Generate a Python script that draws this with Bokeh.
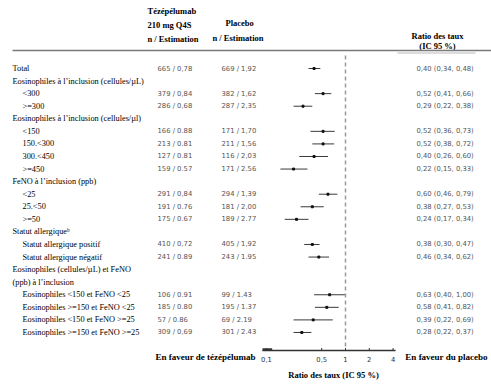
from bokeh.plotting import figure
from bokeh.models import Range1d, LogScale
from bokeh.core.properties import value
from bokeh.embed import file_html
from bokeh.resources import INLINE

# ---------------- data ----------------
labels = [
    "Total",
    "Eosinophiles à l’inclusion (cellules/µL)",
    "<300",
    ">=300",
    "Eosinophiles à l’inclusion (cellules/µl)",
    "<150",
    "150.<300",
    "300.<450",
    " >=450",
    "FeNO à l’inclusion (ppb)",
    "<25",
    "25.<50",
    ">=50",
    "Statut allergiqueᵇ",
    "Statut allergique positif",
    "Statut allergique négatif",
    "Eosinophiles (cellules/µL) et FeNO",
    "(ppb) à l’inclusion",
    "Eosinophiles <150 et FeNO <25",
    "Eosinophiles  >=150 et FeNO <25",
    "Eosinophiles <150 et FeNO >=25",
    "Eosinophiles >=150 et FeNO >=25",
]
level = [0, 0, 1, 1, 0, 1, 1, 1, 1, 0, 1, 1, 1, 0, 1, 1, 0, 0, 1, 1, 1, 1]

tez_text = ["665 / 0,78", "", "379 / 0,84", "286 / 0,68", "", "166 / 0.88",
            "213 / 0.81", "127 / 0.81", "159 / 0.57", "", "291 / 0,84",
            "191 / 0.76", "175 / 0.67", "", "410 / 0,72", "241 / 0.89", "", "",
            "106 / 0.91", "185 / 0.80", "57 / 0.86", "309 / 0,69"]
pla_text = ["669 / 1,92", "", "382 / 1,62", "287 / 2,35", "", "171 / 1,70",
            "211 / 1,56", "116 / 2,03", "171 / 2.56", "", "294 / 1,39",
            "181 / 2,00", "189 / 2.77", "", "405 / 1,92", "243 / 1.95", "", "",
            "99 / 1.43", "195 / 1.37", "69 / 2.19", "301 / 2.43"]

ratio = [0.40, None, 0.52, 0.29, None, 0.52, 0.52, 0.40, 0.22, None, 0.60,
         0.38, 0.24, None, 0.38, 0.46, None, None, 0.63, 0.58, 0.39, 0.28]
lower = [0.34, None, 0.41, 0.22, None, 0.36, 0.38, 0.26, 0.15, None, 0.46,
         0.27, 0.17, None, 0.30, 0.34, None, None, 0.40, 0.41, 0.22, 0.22]
upper = [0.48, None, 0.66, 0.38, None, 0.73, 0.72, 0.60, 0.33, None, 0.79,
         0.53, 0.34, None, 0.47, 0.62, None, None, 1.00, 0.82, 0.69, 0.37]

tick_values = [0.1, 0.5, 1, 2, 4]
tick_labels = ["0,1", "0,5", "1", "2", "4"]
null_value = 1


def fmt(v):
    return f"{v:.2f}".replace(".", ",")


ratio_text = [
    "" if r is None else f"{fmt(r)} ({fmt(l)}, {fmt(u)})"
    for r, l, u in zip(ratio, lower, upper)
]

# ---------------- layout ----------------
W, H = 491, 384
ROW0, STEP = 68.0, 12.57
ys = [ROW0 + STEP * i for i in range(len(labels))]

SERIF = value("Liberation Serif")
SANS = value("DejaVu Sans")

# log ratio range: 0.1 at x=266, 1 at x=345 (79 px per decade)
PXD = 79.0
lo_exp = -1 - 266 / PXD
hi_exp = -1 + (W - 266) / PXD

p = figure(width=W, height=H, x_range=Range1d(0, W), y_range=Range1d(H, 0),
           x_axis_location=None, y_axis_location=None, toolbar_location=None,
           output_backend="svg", min_border=0, outline_line_color=None)
p.xgrid.visible = False
p.ygrid.visible = False
p.extra_x_ranges = {"ratio": Range1d(10 ** lo_exp, 10 ** hi_exp)}
p.extra_x_scales = {"ratio": LogScale()}

# header texts
p.text(x=[147, 147, 147], y=[10, 24, 38],
       text=["Tézépélumab", "210 mg Q4S", "n / Estimation"],
       text_font=SERIF, text_font_size="8.5px", text_font_style="bold",
       text_baseline="middle", text_align="left", text_color="black")
p.text(x=[225, 212], y=[22, 37], text=["Placebo", "n / Estimation"],
       text_font=SERIF, text_font_size="8.5px", text_font_style="bold",
       text_baseline="middle", text_align="left", text_color="black")
p.text(x=[437, 437], y=[35, 45], text=["Ratio des taux", "(IC 95 %)"],
       text_font=SERIF, text_font_size="8.5px", text_font_style="bold",
       text_baseline="middle", text_align="center", text_color="black")

# header rules
p.segment(x0=[12], y0=[50], x1=[491], y1=[50], line_color="#7a7a7a", line_width=1.5)
p.segment(x0=[397], y0=[52.5], x1=[475], y1=[52.5], line_color="#d0d0d0", line_width=1.5)

# row labels
lab_x = [12 if lv == 0 else 22 for lv in level]
p.text(x=lab_x, y=ys, text=labels, text_font=SERIF, text_font_size="8.3px",
       text_baseline="middle", text_align="left", text_color="black")

# numbers
p.text(x=[157] * len(ys), y=ys, text=tez_text, text_font=SANS, text_font_size="6.8px",
       text_baseline="middle", text_align="left", text_color="#555555")
p.text(x=[221] * len(ys), y=ys, text=pla_text, text_font=SANS, text_font_size="6.8px",
       text_baseline="middle", text_align="left", text_color="#555555")
p.text(x=[416] * len(ys), y=ys, text=ratio_text, text_font=SANS, text_font_size="6.8px",
       text_baseline="middle", text_align="left", text_color="#555555")

# forest marks
idx = [i for i, r in enumerate(ratio) if r is not None]
fy = [ys[i] for i in idx]
p.segment(x0=[lower[i] for i in idx], y0=fy, x1=[upper[i] for i in idx], y1=fy,
          x_range_name="ratio", line_color="#3a3a3a", line_width=1)
p.scatter(x=[ratio[i] for i in idx], y=fy, x_range_name="ratio", marker="square",
          size=2, color="#111111")

# null line
p.segment(x0=[null_value], y0=[55], x1=[null_value], y1=[346], x_range_name="ratio",
          line_color="#9a9a9a", line_width=1.5, line_dash="4 3")

# custom x-axis
AX_Y = 350
p.segment(x0=[0.089], y0=[AX_Y], x1=[4.3], y1=[AX_Y], x_range_name="ratio",
          line_color="#333333", line_width=1.5)
p.segment(x0=[0.089], y0=[AX_Y - 1], x1=[0.118], y1=[AX_Y - 1], x_range_name="ratio",
          line_color="#333333", line_width=2.5)
p.segment(x0=tick_values, y0=[AX_Y] * 5, x1=tick_values, y1=[AX_Y - 2.5] * 5,
          x_range_name="ratio", line_color="#333333", line_width=1)
p.text(x=tick_values, y=[359] * 5, text=tick_labels, x_range_name="ratio",
       text_font=SANS, text_font_size="6.8px", text_baseline="middle",
       text_align="center", text_color="#333333")

# bottom labels
p.text(x=[205, 446], y=[356, 356], text=["En faveur de tézépélumab", "En faveur du placebo"],
       text_font=SERIF, text_font_size="9px", text_font_style="bold",
       text_baseline="middle", text_align="center", text_color="black")
p.text(x=[333], y=[374], text=["Ratio des taux (IC 95 %)"],
       text_font=SERIF, text_font_size="8.5px", text_font_style="bold",
       text_baseline="middle", text_align="center", text_color="black")

open("out.html", "w").write(file_html(p, INLINE))
